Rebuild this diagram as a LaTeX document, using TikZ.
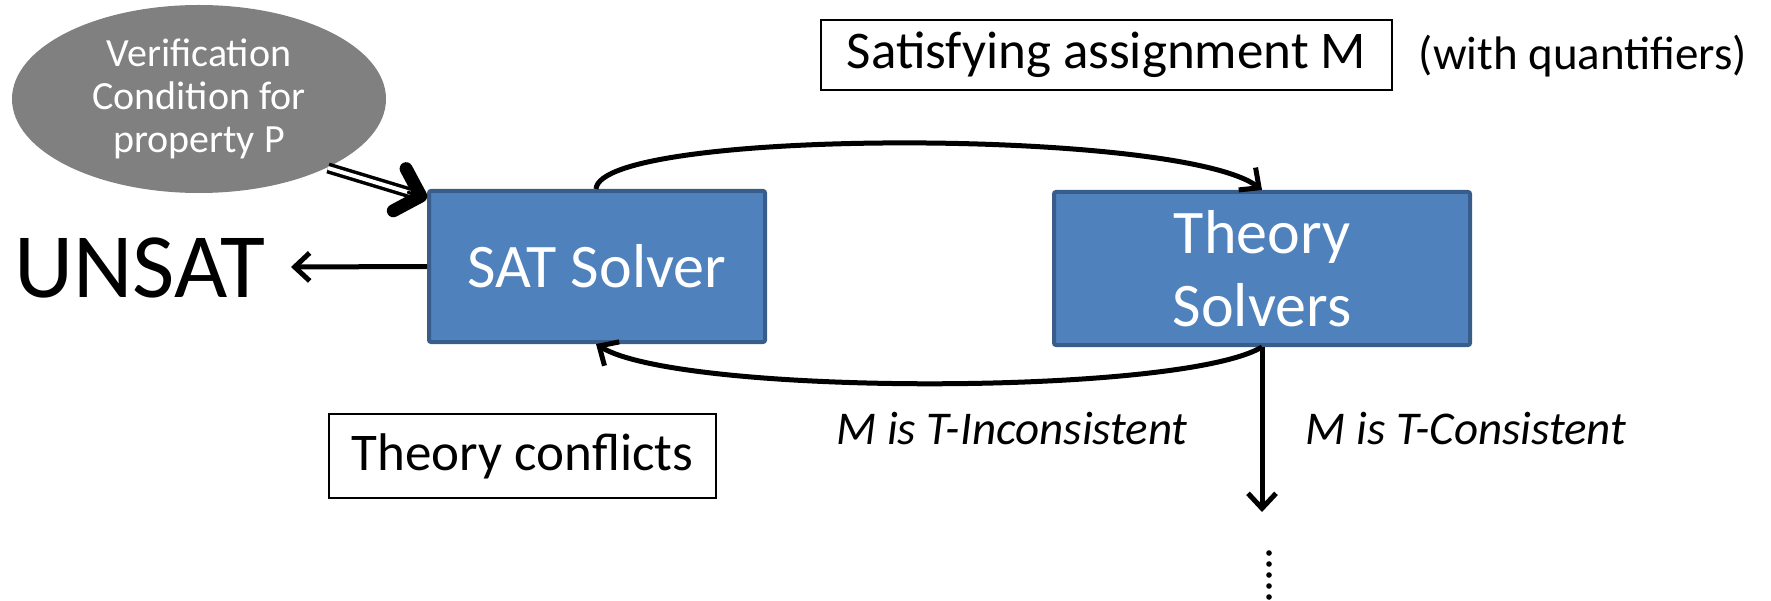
\documentclass[tikz,border=0pt]{standalone}
\usepackage{fontspec}
\setmainfont{Carlito}
\usetikzlibrary{arrows.meta,shapes.geometric,calc}
\definecolor{boxblue}{HTML}{4F81BD}
\definecolor{boxedge}{HTML}{385D8A}
\definecolor{vcgray}{HTML}{808080}
\tikzset{
  solver/.style={rectangle, fill=boxblue, draw=boxedge, line width=4pt,
    rounded corners=2pt, text=white, align=center, inner sep=0pt,
    font=\fontsize{62}{73}\selectfont},
  tag/.style={rectangle, draw=black, line width=2pt, inner sep=0pt,
    font=\fontsize{53}{60}\selectfont},
  note/.style={inner sep=0pt, font=\fontsize{47}{54}\selectfont},
  flow/.style={line width=5pt, -{Straight Barb[length=15pt, width=28pt, line width=5pt]}},
  loop/.style={line width=5pt, -{Straight Barb[length=15pt, width=28pt, line width=5pt]}},
}
\begin{document}
\begin{tikzpicture}[x=1pt, y=-1pt]
\useasboundingbox (0,0) rectangle (1771,601);

% input condition
\node (vc) [ellipse, fill=vcgray, minimum width=374pt, minimum height=188pt,
  inner sep=0pt, text=white, align=center, font=\fontsize{40}{43}\selectfont]
  at (199,99) {Verification\\Condition for\\property P};

% solvers
\node (sat) [solver, minimum width=336pt, minimum height=151pt] at (597,266.5) {SAT Solver};
\node (ts) [solver, minimum width=416pt, minimum height=153pt] at (1262,268.5) {Theory\\Solvers};

% result
\node (unsat) [inner sep=0pt, font=\fontsize{92}{100}\selectfont, anchor=west] at (14,268) {UNSAT};
\coordinate (unsatend) at (291,267);

% labels
\node (sa) [tag, minimum width=571pt, minimum height=70pt] at (1106.5,55) {Satisfying assignment M};
\node (wq) [note] at (1583,56) {(with quantifiers)};
\node (tc) [tag, minimum width=387pt, minimum height=84pt] at (522.5,456) {Theory conflicts};
\node (inc) [note, font=\fontsize{47}{54}\selectfont\itshape] at (1012,429) {M is T-Inconsistent};
\node (con) [note, font=\fontsize{47}{54}\selectfont\itshape] at (1466,429) {M is T-Consistent};

% continuation
\coordinate (down) at (1262,512);
\foreach \k in {0,...,4}
  \fill (1269,553+11*\k) circle (2.8pt);

% connectors
\coordinate (satT) at (596,189);
\coordinate (satB) at (596,344);
\coordinate (tsT) at (1262,190);
\coordinate (tsB) at (1262,347);

\draw[flow] (sat.west) -- (unsatend);
\draw[loop] (satT) .. controls (600,128) and (1180,128) .. (tsT);
\draw[loop] (tsB) .. controls (1180,396) and (680,396) .. (satB);
\draw[flow] (tsB) -- (down);

% double arrow from the condition into the SAT solver
\coordinate (vcout) at (328,168);
\coordinate (dtip) at (427,198);
\draw[line width=3.5pt, double=white, double distance=4pt, shorten >=18pt] (vcout) -- (dtip);
\draw[line width=3pt, -{Straight Barb[length=22pt, width=44pt, line width=13pt, round]}]
  ($(vcout)!0.8!(dtip)$) -- (dtip);
\end{tikzpicture}
\end{document}
